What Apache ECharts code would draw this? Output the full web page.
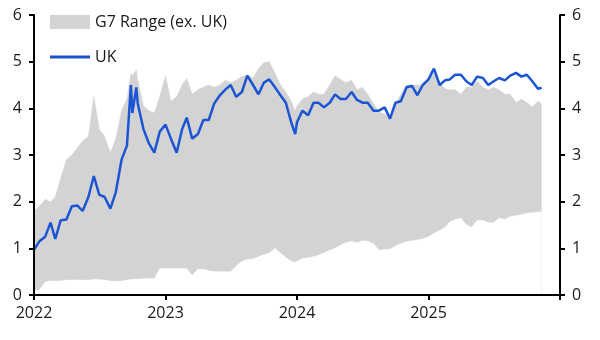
<!DOCTYPE html>
<html>
<head>
<meta charset="utf-8">
<script src="https://cdn.jsdelivr.net/npm/echarts@6/dist/echarts.min.js"></script>
<style>
html,body{margin:0;padding:0;background:#fff;}
#chart{width:600px;height:340px;}
</style>
</head>
<body>
<div id="chart"></div>
<script>
const dates = [
'2022-01-01','2022-01-16','2022-02-01','2022-02-16','2022-03-01','2022-03-16','2022-04-01','2022-04-16','2022-05-01','2022-05-16','2022-06-01','2022-06-16','2022-07-01','2022-07-16','2022-08-01','2022-08-16','2022-09-01','2022-09-16','2022-09-27','2022-10-01','2022-10-12','2022-10-16','2022-11-01','2022-11-16','2022-12-01','2022-12-16',
'2023-01-01','2023-01-16','2023-02-01','2023-02-16','2023-03-01','2023-03-16','2023-04-01','2023-04-16','2023-05-01','2023-05-16','2023-06-01','2023-06-16','2023-07-01','2023-07-16','2023-08-01','2023-08-16','2023-09-01','2023-09-16','2023-10-01','2023-10-16','2023-11-01','2023-11-16','2023-12-01','2023-12-16','2023-12-27',
'2024-01-01','2024-01-16','2024-02-01','2024-02-16','2024-03-01','2024-03-16','2024-04-01','2024-04-16','2024-05-01','2024-05-16','2024-06-01','2024-06-16','2024-07-01','2024-07-16','2024-08-01','2024-08-16','2024-09-01','2024-09-16','2024-10-01','2024-10-16','2024-11-01','2024-11-16','2024-12-01','2024-12-16',
'2025-01-01','2025-01-16','2025-02-01','2025-02-16','2025-03-01','2025-03-16','2025-04-01','2025-04-16','2025-05-01','2025-05-16','2025-06-01','2025-06-16','2025-07-01','2025-07-16','2025-08-01','2025-08-16','2025-09-01','2025-09-16','2025-10-01','2025-10-16','2025-11-01','2025-11-11'
];

const ukValues = [
0.97,1.15,1.25,1.55,1.2,1.6,1.62,1.9,1.92,1.8,2.1,2.55,2.15,2.1,1.85,2.2,2.9,3.2,4.5,3.9,4.45,4.1,3.55,3.25,3.05,3.5,
3.65,3.35,3.05,3.55,3.8,3.35,3.45,3.75,3.75,4.1,4.28,4.4,4.5,4.25,4.35,4.7,4.5,4.3,4.55,4.62,4.45,4.28,4.12,3.7,3.45,
3.7,3.95,3.85,4.12,4.12,4.02,4.12,4.3,4.2,4.2,4.35,4.18,4.12,4.12,3.95,3.95,4.02,3.78,4.12,4.15,4.45,4.48,4.28,4.5,
4.62,4.85,4.5,4.6,4.62,4.72,4.72,4.58,4.5,4.68,4.65,4.5,4.58,4.65,4.6,4.7,4.76,4.68,4.72,4.58,4.42,4.44
];

const g7High = [
1.8,1.9,2.05,2.0,2.1,2.5,2.9,3.0,3.15,3.3,3.4,4.25,3.55,3.4,3.05,3.35,3.95,4.2,4.75,4.7,4.82,4.6,4.05,3.95,3.9,4.25,
4.7,4.15,4.25,4.5,4.64,4.3,4.4,4.45,4.5,4.45,4.5,4.6,4.55,4.6,4.68,4.72,4.65,4.85,4.98,5.0,4.75,4.5,4.35,4.15,3.95,
4.05,4.2,4.25,4.35,4.3,4.3,4.5,4.7,4.62,4.55,4.6,4.4,4.45,4.3,4.1,3.92,3.88,3.8,4.1,4.3,4.5,4.5,4.5,4.5,
4.6,4.75,4.55,4.42,4.4,4.4,4.3,4.45,4.45,4.58,4.45,4.4,4.45,4.4,4.3,4.3,4.12,4.2,4.12,4.03,4.15,4.1
];

const g7Low = [
0.1,0.1,0.28,0.3,0.3,0.3,0.32,0.32,0.32,0.32,0.32,0.33,0.33,0.32,0.3,0.29,0.3,0.32,0.33,0.33,0.34,0.35,0.35,0.35,0.35,0.56,
0.57,0.57,0.57,0.57,0.56,0.42,0.55,0.55,0.52,0.5,0.5,0.5,0.5,0.62,0.72,0.76,0.77,0.82,0.86,0.9,1.0,0.9,0.8,0.72,0.7,
0.72,0.78,0.8,0.82,0.85,0.9,0.96,1.0,1.07,1.12,1.15,1.12,1.16,1.15,1.1,0.96,0.97,0.98,1.05,1.1,1.14,1.16,1.18,1.2,
1.25,1.32,1.38,1.45,1.56,1.62,1.65,1.5,1.45,1.6,1.6,1.55,1.55,1.65,1.62,1.68,1.7,1.72,1.75,1.76,1.78,1.78
];

const yTicks = [0,1,2,3,4,5,6];
const xYears = [2022,2023,2024,2025,2026];
const labelBand = 'G7 Range (ex. UK)';
const labelUK = 'UK';

function toYear(s){
  const d = Date.parse(s + 'T00:00:00Z');
  const y = parseInt(s.slice(0,4),10);
  const a = Date.UTC(y,0,1), b = Date.UTC(y+1,0,1);
  return y + (d - a) / (b - a);
}
const xs = dates.map(toYear);
const highData = xs.map((x,i)=>[x, g7High[i]]);
const lowData = xs.map((x,i)=>[x, g7Low[i]]);
const ukData = xs.map((x,i)=>[x, ukValues[i]]);

const FONT = 'Open Sans';
const GRAY = '#d3d3d3';
const BLUE = '#1c55d4';
const chart = echarts.init(document.getElementById('chart'), null, {renderer:'canvas'});
const yAxisCommon = {
  type:'value', min:yTicks[0], max:yTicks[yTicks.length-1], interval:1, z:10,
  axisLine:{show:true, lineStyle:{color:'#000', width:2}},
  axisTick:{show:true, length:5, lineStyle:{color:'#000', width:2}},
  splitLine:{show:false},
  axisLabel:{color:'#1a1a1a', fontFamily:FONT, fontSize:16, margin:12}
};
chart.setOption({
  animation:false,
  grid:{left:34, right:40, top:15, bottom:45, containLabel:false},
  legend:[
    {orient:'vertical', left:45, top:9, itemWidth:40, itemHeight:14,
     textStyle:{color:'#1a1a1a', fontFamily:FONT, fontSize:16},
     data:[{name:labelBand, icon:'rect', itemStyle:{color:GRAY}}]},
    {orient:'vertical', left:45, top:44, itemWidth:40, itemHeight:3,
     textStyle:{color:'#1a1a1a', fontFamily:FONT, fontSize:16},
     data:[{name:labelUK, icon:'rect', itemStyle:{color:BLUE}}]}
  ],
  xAxis:{
    type:'value', min:xYears[0], max:xYears[xYears.length-1], interval:1, z:10,
    axisLine:{show:true, onZero:false, lineStyle:{color:'#000', width:2}},
    axisTick:{show:true, length:5, lineStyle:{color:'#000', width:2}},
    splitLine:{show:false},
    axisLabel:{color:'#1a1a1a', fontFamily:FONT, fontSize:16, margin:10,
      formatter:(v)=> (v >= xYears[xYears.length-1] ? '' : String(v))}
  },
  yAxis:[
    Object.assign({position:'left'}, yAxisCommon),
    Object.assign({position:'right'}, yAxisCommon)
  ],
  series:[
    {name:labelBand, type:'line', data:highData, symbol:'none', color:GRAY,
     lineStyle:{width:0.5, color:GRAY}, areaStyle:{color:GRAY, opacity:1}, z:1},
    {name:'low', type:'line', data:lowData, symbol:'none', color:'#fff',
     lineStyle:{width:0.5, color:'#fff'}, areaStyle:{color:'#fff', opacity:1}, z:2, silent:true},
    {name:labelUK, type:'line', data:ukData, symbol:'none', color:BLUE,
     lineStyle:{width:2.5, color:BLUE}, z:3}
  ]
});
</script>
</body>
</html>
